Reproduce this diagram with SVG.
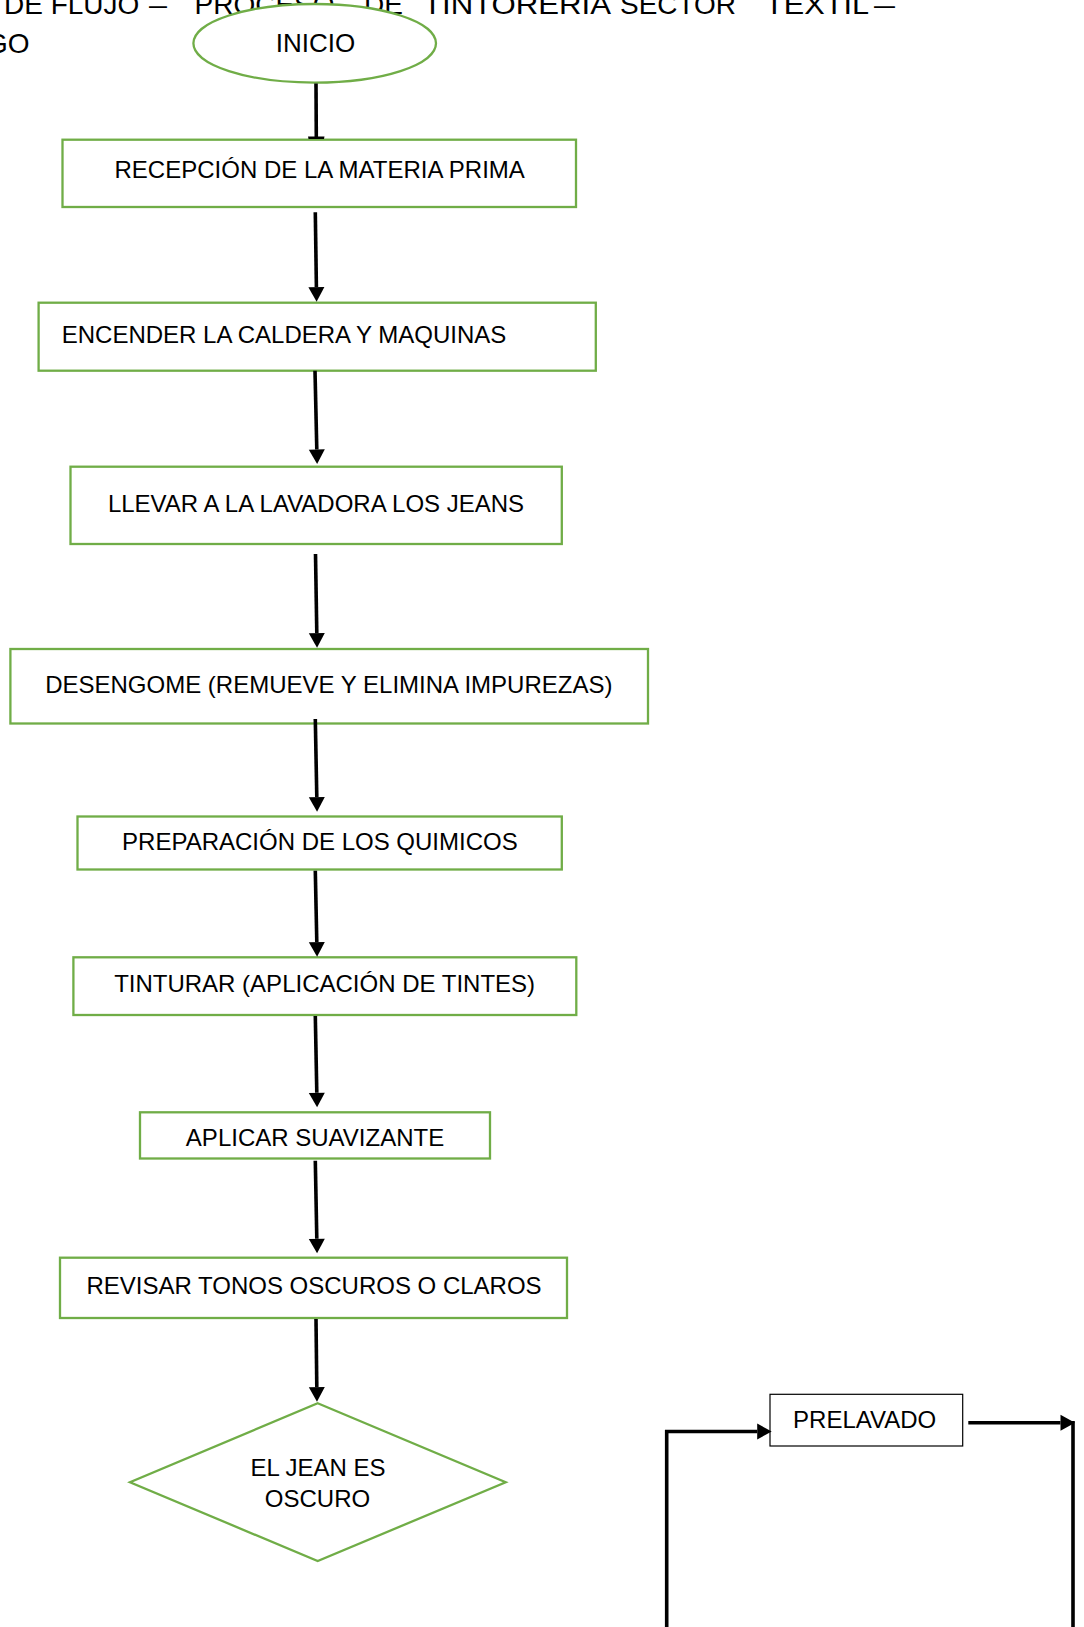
<svg xmlns="http://www.w3.org/2000/svg" width="1084" height="1627" viewBox="0 0 1084 1627">
<style>
  .bg{fill:#ffffff}
  .node{fill:#ffffff;stroke:#70AD47;stroke-width:2.3}
  .plain{fill:#ffffff;stroke:#000000;stroke-width:1.2}
  .lbl{font-family:"Liberation Sans",Arial,sans-serif;font-size:24px;fill:#000000;text-anchor:middle}
  .title{font-family:"Liberation Sans",Arial,sans-serif;font-size:28px;fill:#000000}
  .conn{fill:none;stroke:#000000;stroke-width:3.6}
</style>
<defs>
  <marker id="ah" markerUnits="userSpaceOnUse" markerWidth="15" markerHeight="17" refX="0" refY="8" orient="auto" overflow="visible">
    <path d="M0,0 L14.5,8 L0,16 z" fill="#000000"/>
  </marker>
</defs>
<rect class="bg" x="0" y="0" width="1084" height="1627"/>

<g id="title">
  <text class="title" y="13.5"><tspan x="4">DE FLUJO</tspan><tspan x="149" textLength="18" lengthAdjust="spacingAndGlyphs">–</tspan><tspan x="194.5">PROCESO</tspan><tspan x="364">DE</tspan><tspan x="423" textLength="188" lengthAdjust="spacingAndGlyphs">TINTORERIA</tspan><tspan x="620" textLength="116" lengthAdjust="spacingAndGlyphs">SECTOR</tspan><tspan x="765" textLength="104" lengthAdjust="spacingAndGlyphs">TEXTIL</tspan><tspan x="874" textLength="21" lengthAdjust="spacingAndGlyphs">–</tspan></text>
  <text class="title" x="-14" y="52.7">GO</text>
</g>

<g id="inicio">
  <ellipse class="node" cx="314.7" cy="43.3" rx="121.3" ry="39.3"/>
  <text class="lbl" x="315.5" y="51.7" style="font-size:26px">INICIO</text>
</g>
<g id="recepcion">
  <rect class="node" x="62.5" y="139.7" width="513.5" height="67.3"/>
  <text class="lbl" x="319.7" y="178.3">RECEPCIÓN DE LA MATERIA PRIMA</text>
</g>
<g id="encender">
  <rect class="node" x="38.6" y="302.7" width="557.2" height="68"/>
  <text class="lbl" x="284" y="342.7">ENCENDER LA CALDERA Y MAQUINAS</text>
</g>
<g id="llevar">
  <rect class="node" x="70.5" y="466.7" width="491.3" height="77.3"/>
  <text class="lbl" x="316" y="511.7">LLEVAR A LA LAVADORA LOS JEANS</text>
</g>
<g id="desengome">
  <rect class="node" x="10.4" y="649" width="637.6" height="74.5"/>
  <text class="lbl" x="328.8" y="693.3">DESENGOME (REMUEVE Y ELIMINA IMPUREZAS)</text>
</g>
<g id="preparacion">
  <rect class="node" x="77.5" y="816.5" width="484.3" height="53"/>
  <text class="lbl" x="319.9" y="850">PREPARACIÓN DE LOS QUIMICOS</text>
</g>
<g id="tinturar">
  <rect class="node" x="73.4" y="957.3" width="502.9" height="57.7"/>
  <text class="lbl" x="324.6" y="991.7">TINTURAR (APLICACIÓN DE TINTES)</text>
</g>
<g id="aplicar">
  <rect class="node" x="140" y="1112.3" width="350" height="46.2"/>
  <text class="lbl" x="315" y="1146">APLICAR SUAVIZANTE</text>
</g>
<g id="revisar">
  <rect class="node" x="60" y="1257.7" width="507" height="60.3"/>
  <text class="lbl" x="314" y="1294.3">REVISAR TONOS OSCUROS O CLAROS</text>
</g>
<g id="decision">
  <polygon class="node" points="317.7,1403.3 505.7,1482.3 317.7,1561 130,1482.3"/>
  <text class="lbl" x="318" y="1475.7">EL JEAN ES</text>
  <text class="lbl" x="317.5" y="1507.3">OSCURO</text>
</g>
<g id="prelavado">
  <rect class="plain" x="770" y="1394.3" width="192.7" height="51.7"/>
  <text class="lbl" x="864.7" y="1427.7">PRELAVADO</text>
</g>

<g id="connectors">
  <path class="conn" d="M316,83.5 L316.3,137.5"/>
  <polygon points="308,136.5 324.5,136.5 324,139 308.5,139" fill="#000000"/>
  <path class="conn" d="M315.3,212.3 L316.4,287.2" marker-end="url(#ah)"/>
  <path class="conn" d="M315,370.7 L316.8,449.5" marker-end="url(#ah)"/>
  <path class="conn" d="M315.5,554 L316.8,633.2" marker-end="url(#ah)"/>
  <path class="conn" d="M315.3,719 L316.8,797.2" marker-end="url(#ah)"/>
  <path class="conn" d="M315.3,870.7 L316.8,942.2" marker-end="url(#ah)"/>
  <path class="conn" d="M315.3,1016 L316.8,1092.8" marker-end="url(#ah)"/>
  <path class="conn" d="M315.3,1160.7 L316.8,1238.8" marker-end="url(#ah)"/>
  <path class="conn" d="M316,1319 L316.8,1387.2" marker-end="url(#ah)"/>
  <path class="conn" d="M666.7,1630 L666.7,1431.5 L757.2,1431.5" marker-end="url(#ah)"/>
  <path class="conn" d="M968.3,1422.7 L1060.5,1422.7" marker-end="url(#ah)"/>
  <path class="conn" d="M1073,1421 L1073,1630"/>
</g>
</svg>
